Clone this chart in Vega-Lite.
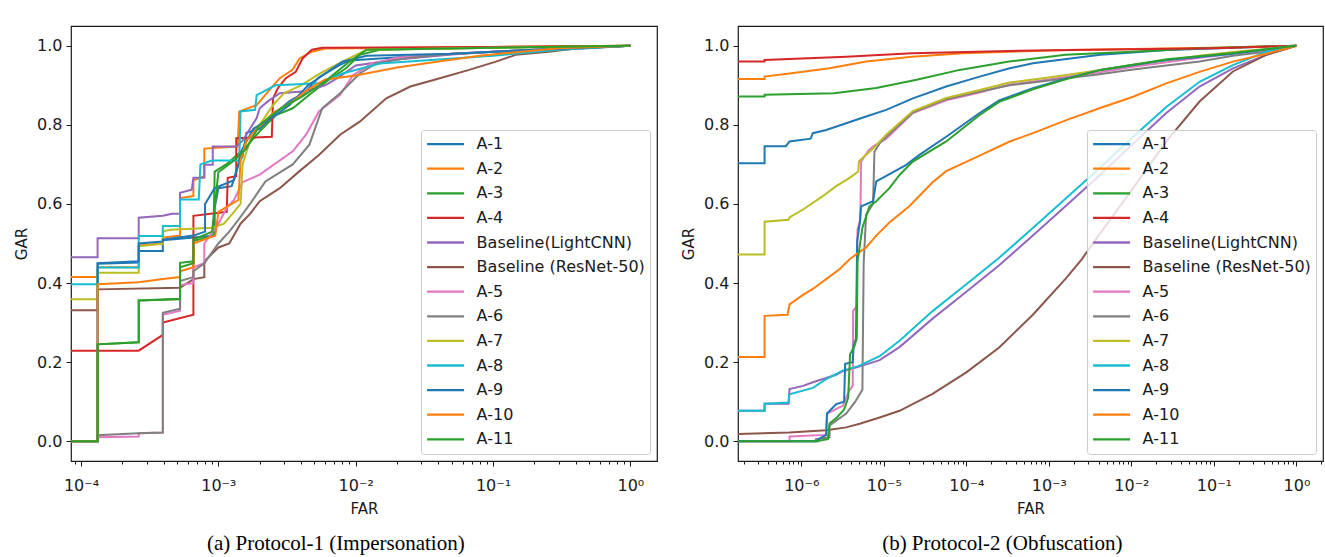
{
"$schema": "https://vega.github.io/schema/vega-lite/v6.json",
"background": "#ffffff",
"padding": {"left": 13, "top": 25, "right": 2, "bottom": 2},
"config": {
  "view": {"stroke": "#1a1a1a", "strokeWidth": 1.2},
  "axis": {"labelFont": "DejaVu Sans", "labelFontSize": 16, "labelColor": "#1a1a1a", "titleFont": "DejaVu Sans", "titleFontSize": 15, "titleFontWeight": "normal", "titleColor": "#1a1a1a", "tickColor": "#1a1a1a", "domain": false, "grid": false, "tickSize": 5},
  "axisY": {"labelPadding": 4, "titlePadding": 7},
  "axisX": {"labelPadding": 11, "titlePadding": 8},
  "legend": {"orient": "bottom-right", "offset": 7, "symbolType": "stroke", "symbolSize": 1369, "symbolStrokeWidth": 2.3, "labelFont": "DejaVu Sans", "labelFontSize": 16, "labelColor": "#1a1a1a", "clipHeight": 19, "rowPadding": 5.6, "padding": 4.6, "symbolOffset": 0, "labelOffset": 11, "fillColor": "rgba(255,255,255,0.8)", "strokeColor": "#cccccc", "cornerRadius": 3, "labelLimit": 300},
  "title": {"font": "Liberation Serif", "fontSize": 21, "fontWeight": "normal", "color": "#000000"}
},
"datasets": {
"p1": [
{"model":"A-1","far":8.45e-5,"gar":0},{"model":"A-1","far":1.32e-4,"gar":0},{"model":"A-1","far":1.32e-4,"gar":0.449},{"model":"A-1","far":2.63e-4,"gar":0.452},{"model":"A-1","far":2.63e-4,"gar":0.481},{"model":"A-1","far":3.94e-4,"gar":0.481},{"model":"A-1","far":3.94e-4,"gar":0.508},{"model":"A-1","far":6.58e-4,"gar":0.515},{"model":"A-1","far":9.4e-4,"gar":0.52},{"model":"A-1","far":9.4e-4,"gar":0.59},{"model":"A-1","far":1.0e-3,"gar":0.64},{"model":"A-1","far":1.25e-3,"gar":0.645},{"model":"A-1","far":1.4e-3,"gar":0.70},{"model":"A-1","far":1.5e-3,"gar":0.72},{"model":"A-1","far":1.6e-3,"gar":0.78},{"model":"A-1","far":2.0e-3,"gar":0.79},{"model":"A-1","far":2.6e-3,"gar":0.83},{"model":"A-1","far":3.3e-3,"gar":0.86},{"model":"A-1","far":4.2e-3,"gar":0.88},{"model":"A-1","far":5.4e-3,"gar":0.92},{"model":"A-1","far":7.5e-3,"gar":0.95},{"model":"A-1","far":9e-3,"gar":0.963},{"model":"A-1","far":1.5e-2,"gar":0.968},{"model":"A-1","far":3e-2,"gar":0.975},{"model":"A-1","far":0.1,"gar":0.985},{"model":"A-1","far":0.3,"gar":0.992},{"model":"A-1","far":1,"gar":1},
{"model":"A-2","far":8.45e-5,"gar":0.415},{"model":"A-2","far":1.32e-4,"gar":0.415},{"model":"A-2","far":1.32e-4,"gar":0.44},{"model":"A-2","far":2.63e-4,"gar":0.44},{"model":"A-2","far":2.63e-4,"gar":0.495},{"model":"A-2","far":3.94e-4,"gar":0.50},{"model":"A-2","far":3.94e-4,"gar":0.515},{"model":"A-2","far":5.26e-4,"gar":0.52},{"model":"A-2","far":5.26e-4,"gar":0.615},{"model":"A-2","far":6.58e-4,"gar":0.62},{"model":"A-2","far":6.58e-4,"gar":0.66},{"model":"A-2","far":7.9e-4,"gar":0.67},{"model":"A-2","far":7.9e-4,"gar":0.74},{"model":"A-2","far":1.38e-3,"gar":0.745},{"model":"A-2","far":1.42e-3,"gar":0.834},{"model":"A-2","far":1.9e-3,"gar":0.85},{"model":"A-2","far":2.3e-3,"gar":0.884},{"model":"A-2","far":2.8e-3,"gar":0.918},{"model":"A-2","far":3.48e-3,"gar":0.94},{"model":"A-2","far":3.9e-3,"gar":0.968},{"model":"A-2","far":4.8e-3,"gar":0.985},{"model":"A-2","far":6e-3,"gar":0.993},{"model":"A-2","far":0.1,"gar":0.997},{"model":"A-2","far":1,"gar":1},
{"model":"A-3","far":8.45e-5,"gar":0},{"model":"A-3","far":1.32e-4,"gar":0},{"model":"A-3","far":1.32e-4,"gar":0.245},{"model":"A-3","far":2.63e-4,"gar":0.25},{"model":"A-3","far":2.63e-4,"gar":0.356},{"model":"A-3","far":5.26e-4,"gar":0.359},{"model":"A-3","far":5.26e-4,"gar":0.451},{"model":"A-3","far":6.58e-4,"gar":0.455},{"model":"A-3","far":6.58e-4,"gar":0.506},{"model":"A-3","far":9.2e-4,"gar":0.52},{"model":"A-3","far":9.4e-4,"gar":0.682},{"model":"A-3","far":1.14e-3,"gar":0.70},{"model":"A-3","far":1.59e-3,"gar":0.744},{"model":"A-3","far":1.99e-3,"gar":0.783},{"model":"A-3","far":2.63e-3,"gar":0.825},{"model":"A-3","far":3.48e-3,"gar":0.842},{"model":"A-3","far":4.6e-3,"gar":0.876},{"model":"A-3","far":6.1e-3,"gar":0.909},{"model":"A-3","far":8.5e-3,"gar":0.943},{"model":"A-3","far":1.07e-2,"gar":0.977},{"model":"A-3","far":1.5e-2,"gar":0.99},{"model":"A-3","far":0.1,"gar":0.995},{"model":"A-3","far":1,"gar":1},
{"model":"A-4","far":8.45e-5,"gar":0.229},{"model":"A-4","far":2.63e-4,"gar":0.229},{"model":"A-4","far":3.94e-4,"gar":0.269},{"model":"A-4","far":3.94e-4,"gar":0.30},{"model":"A-4","far":6.58e-4,"gar":0.32},{"model":"A-4","far":6.58e-4,"gar":0.57},{"model":"A-4","far":1.15e-3,"gar":0.58},{"model":"A-4","far":1.17e-3,"gar":0.666},{"model":"A-4","far":1.35e-3,"gar":0.67},{"model":"A-4","far":1.35e-3,"gar":0.766},{"model":"A-4","far":2.45e-3,"gar":0.77},{"model":"A-4","far":2.5e-3,"gar":0.867},{"model":"A-4","far":2.7e-3,"gar":0.892},{"model":"A-4","far":3.1e-3,"gar":0.918},{"model":"A-4","far":3.66e-3,"gar":0.934},{"model":"A-4","far":4.1e-3,"gar":0.968},{"model":"A-4","far":4.8e-3,"gar":0.99},{"model":"A-4","far":5.7e-3,"gar":0.995},{"model":"A-4","far":0.1,"gar":0.997},{"model":"A-4","far":1,"gar":1},
{"model":"Baseline(LightCNN)","far":8.45e-5,"gar":0.465},{"model":"Baseline(LightCNN)","far":1.32e-4,"gar":0.465},{"model":"Baseline(LightCNN)","far":1.32e-4,"gar":0.513},{"model":"Baseline(LightCNN)","far":2.63e-4,"gar":0.513},{"model":"Baseline(LightCNN)","far":2.63e-4,"gar":0.565},{"model":"Baseline(LightCNN)","far":3.94e-4,"gar":0.57},{"model":"Baseline(LightCNN)","far":4.6e-4,"gar":0.575},{"model":"Baseline(LightCNN)","far":5.26e-4,"gar":0.575},{"model":"Baseline(LightCNN)","far":5.26e-4,"gar":0.628},{"model":"Baseline(LightCNN)","far":6.4e-4,"gar":0.636},{"model":"Baseline(LightCNN)","far":6.58e-4,"gar":0.666},{"model":"Baseline(LightCNN)","far":7.9e-4,"gar":0.666},{"model":"Baseline(LightCNN)","far":7.9e-4,"gar":0.699},{"model":"Baseline(LightCNN)","far":9.1e-4,"gar":0.699},{"model":"Baseline(LightCNN)","far":9.1e-4,"gar":0.745},{"model":"Baseline(LightCNN)","far":1.35e-3,"gar":0.745},{"model":"Baseline(LightCNN)","far":1.5e-3,"gar":0.76},{"model":"Baseline(LightCNN)","far":1.9e-3,"gar":0.817},{"model":"Baseline(LightCNN)","far":2.0e-3,"gar":0.842},{"model":"Baseline(LightCNN)","far":2.3e-3,"gar":0.86},{"model":"Baseline(LightCNN)","far":2.8e-3,"gar":0.88},{"model":"Baseline(LightCNN)","far":4.3e-3,"gar":0.885},{"model":"Baseline(LightCNN)","far":6e-3,"gar":0.90},{"model":"Baseline(LightCNN)","far":7.5e-3,"gar":0.92},{"model":"Baseline(LightCNN)","far":1e-2,"gar":0.95},{"model":"Baseline(LightCNN)","far":2e-2,"gar":0.965},{"model":"Baseline(LightCNN)","far":5e-2,"gar":0.978},{"model":"Baseline(LightCNN)","far":0.1,"gar":0.985},{"model":"Baseline(LightCNN)","far":0.3,"gar":0.99},{"model":"Baseline(LightCNN)","far":1,"gar":1},
{"model":"Baseline (ResNet-50)","far":8.45e-5,"gar":0.331},{"model":"Baseline (ResNet-50)","far":1.32e-4,"gar":0.331},{"model":"Baseline (ResNet-50)","far":1.32e-4,"gar":0.384},{"model":"Baseline (ResNet-50)","far":5.26e-4,"gar":0.388},{"model":"Baseline (ResNet-50)","far":6.58e-4,"gar":0.41},{"model":"Baseline (ResNet-50)","far":7.9e-4,"gar":0.415},{"model":"Baseline (ResNet-50)","far":7.9e-4,"gar":0.455},{"model":"Baseline (ResNet-50)","far":1e-3,"gar":0.49},{"model":"Baseline (ResNet-50)","far":1.2e-3,"gar":0.50},{"model":"Baseline (ResNet-50)","far":1.45e-3,"gar":0.55},{"model":"Baseline (ResNet-50)","far":1.7e-3,"gar":0.575},{"model":"Baseline (ResNet-50)","far":2e-3,"gar":0.607},{"model":"Baseline (ResNet-50)","far":2.8e-3,"gar":0.64},{"model":"Baseline (ResNet-50)","far":3.9e-3,"gar":0.683},{"model":"Baseline (ResNet-50)","far":5.4e-3,"gar":0.724},{"model":"Baseline (ResNet-50)","far":7.7e-3,"gar":0.775},{"model":"Baseline (ResNet-50)","far":1.07e-2,"gar":0.808},{"model":"Baseline (ResNet-50)","far":1.67e-2,"gar":0.867},{"model":"Baseline (ResNet-50)","far":2.5e-2,"gar":0.897},{"model":"Baseline (ResNet-50)","far":4.1e-2,"gar":0.918},{"model":"Baseline (ResNet-50)","far":6.7e-2,"gar":0.939},{"model":"Baseline (ResNet-50)","far":0.105,"gar":0.96},{"model":"Baseline (ResNet-50)","far":0.146,"gar":0.977},{"model":"Baseline (ResNet-50)","far":0.255,"gar":0.985},{"model":"Baseline (ResNet-50)","far":0.4,"gar":0.993},{"model":"Baseline (ResNet-50)","far":1,"gar":1},
{"model":"A-5","far":8.45e-5,"gar":0},{"model":"A-5","far":1.32e-4,"gar":0},{"model":"A-5","far":1.32e-4,"gar":0.01},{"model":"A-5","far":2.63e-4,"gar":0.012},{"model":"A-5","far":2.63e-4,"gar":0.02},{"model":"A-5","far":3.94e-4,"gar":0.022},{"model":"A-5","far":3.94e-4,"gar":0.32},{"model":"A-5","far":5.26e-4,"gar":0.33},{"model":"A-5","far":5.26e-4,"gar":0.395},{"model":"A-5","far":6.58e-4,"gar":0.40},{"model":"A-5","far":6.58e-4,"gar":0.44},{"model":"A-5","far":7.9e-4,"gar":0.45},{"model":"A-5","far":7.9e-4,"gar":0.50},{"model":"A-5","far":1e-3,"gar":0.55},{"model":"A-5","far":1.15e-3,"gar":0.59},{"model":"A-5","far":1.3e-3,"gar":0.61},{"model":"A-5","far":1.5e-3,"gar":0.655},{"model":"A-5","far":2e-3,"gar":0.674},{"model":"A-5","far":3.48e-3,"gar":0.733},{"model":"A-5","far":4.35e-3,"gar":0.775},{"model":"A-5","far":5.4e-3,"gar":0.834},{"model":"A-5","far":7.7e-3,"gar":0.876},{"model":"A-5","far":9.6e-3,"gar":0.926},{"model":"A-5","far":1.3e-2,"gar":0.955},{"model":"A-5","far":2e-2,"gar":0.97},{"model":"A-5","far":5e-2,"gar":0.98},{"model":"A-5","far":0.2,"gar":0.99},{"model":"A-5","far":1,"gar":1},
{"model":"A-6","far":8.45e-5,"gar":0},{"model":"A-6","far":1.32e-4,"gar":0},{"model":"A-6","far":1.32e-4,"gar":0.015},{"model":"A-6","far":2.63e-4,"gar":0.02},{"model":"A-6","far":3.94e-4,"gar":0.022},{"model":"A-6","far":3.94e-4,"gar":0.325},{"model":"A-6","far":5.26e-4,"gar":0.335},{"model":"A-6","far":5.26e-4,"gar":0.405},{"model":"A-6","far":6.58e-4,"gar":0.415},{"model":"A-6","far":6.58e-4,"gar":0.43},{"model":"A-6","far":7.9e-4,"gar":0.45},{"model":"A-6","far":1e-3,"gar":0.50},{"model":"A-6","far":1.2e-3,"gar":0.53},{"model":"A-6","far":1.4e-3,"gar":0.56},{"model":"A-6","far":1.7e-3,"gar":0.60},{"model":"A-6","far":2.2e-3,"gar":0.657},{"model":"A-6","far":3.48e-3,"gar":0.70},{"model":"A-6","far":4.6e-3,"gar":0.75},{"model":"A-6","far":5.7e-3,"gar":0.842},{"model":"A-6","far":7.7e-3,"gar":0.88},{"model":"A-6","far":1.07e-2,"gar":0.93},{"model":"A-6","far":1.4e-2,"gar":0.955},{"model":"A-6","far":2.5e-2,"gar":0.97},{"model":"A-6","far":5e-2,"gar":0.98},{"model":"A-6","far":0.2,"gar":0.99},{"model":"A-6","far":1,"gar":1},
{"model":"A-7","far":8.45e-5,"gar":0.359},{"model":"A-7","far":1.32e-4,"gar":0.359},{"model":"A-7","far":1.32e-4,"gar":0.426},{"model":"A-7","far":2.63e-4,"gar":0.426},{"model":"A-7","far":2.63e-4,"gar":0.493},{"model":"A-7","far":3.94e-4,"gar":0.50},{"model":"A-7","far":3.94e-4,"gar":0.531},{"model":"A-7","far":4.5e-4,"gar":0.535},{"model":"A-7","far":9e-4,"gar":0.54},{"model":"A-7","far":1.1e-3,"gar":0.55},{"model":"A-7","far":1.3e-3,"gar":0.58},{"model":"A-7","far":1.45e-3,"gar":0.60},{"model":"A-7","far":1.5e-3,"gar":0.70},{"model":"A-7","far":1.7e-3,"gar":0.76},{"model":"A-7","far":2.0e-3,"gar":0.80},{"model":"A-7","far":2.5e-3,"gar":0.85},{"model":"A-7","far":3.0e-3,"gar":0.88},{"model":"A-7","far":4e-3,"gar":0.90},{"model":"A-7","far":5.5e-3,"gar":0.93},{"model":"A-7","far":8e-3,"gar":0.96},{"model":"A-7","far":1.2e-2,"gar":0.99},{"model":"A-7","far":0.1,"gar":0.995},{"model":"A-7","far":1,"gar":1},
{"model":"A-8","far":8.45e-5,"gar":0.397},{"model":"A-8","far":1.32e-4,"gar":0.397},{"model":"A-8","far":1.32e-4,"gar":0.439},{"model":"A-8","far":2.63e-4,"gar":0.439},{"model":"A-8","far":2.63e-4,"gar":0.519},{"model":"A-8","far":3.94e-4,"gar":0.519},{"model":"A-8","far":3.94e-4,"gar":0.544},{"model":"A-8","far":5.26e-4,"gar":0.544},{"model":"A-8","far":5.26e-4,"gar":0.611},{"model":"A-8","far":7.2e-4,"gar":0.611},{"model":"A-8","far":7.4e-4,"gar":0.70},{"model":"A-8","far":9e-4,"gar":0.71},{"model":"A-8","far":1.42e-3,"gar":0.71},{"model":"A-8","far":1.45e-3,"gar":0.834},{"model":"A-8","far":1.85e-3,"gar":0.838},{"model":"A-8","far":1.9e-3,"gar":0.875},{"model":"A-8","far":2.6e-3,"gar":0.90},{"model":"A-8","far":5.4e-3,"gar":0.905},{"model":"A-8","far":8e-3,"gar":0.93},{"model":"A-8","far":1.5e-2,"gar":0.955},{"model":"A-8","far":4e-2,"gar":0.965},{"model":"A-8","far":0.1,"gar":0.975},{"model":"A-8","far":0.3,"gar":0.99},{"model":"A-8","far":1,"gar":1},
{"model":"A-9","far":8.45e-5,"gar":0},{"model":"A-9","far":1.32e-4,"gar":0},{"model":"A-9","far":1.32e-4,"gar":0.45},{"model":"A-9","far":2.63e-4,"gar":0.455},{"model":"A-9","far":2.63e-4,"gar":0.50},{"model":"A-9","far":3.94e-4,"gar":0.505},{"model":"A-9","far":3.94e-4,"gar":0.51},{"model":"A-9","far":6.58e-4,"gar":0.52},{"model":"A-9","far":8e-4,"gar":0.53},{"model":"A-9","far":8e-4,"gar":0.60},{"model":"A-9","far":9.4e-4,"gar":0.64},{"model":"A-9","far":1.3e-3,"gar":0.66},{"model":"A-9","far":1.5e-3,"gar":0.74},{"model":"A-9","far":1.8e-3,"gar":0.79},{"model":"A-9","far":2.5e-3,"gar":0.82},{"model":"A-9","far":3.3e-3,"gar":0.85},{"model":"A-9","far":4.5e-3,"gar":0.90},{"model":"A-9","far":6e-3,"gar":0.93},{"model":"A-9","far":8e-3,"gar":0.96},{"model":"A-9","far":1.2e-2,"gar":0.975},{"model":"A-9","far":5e-2,"gar":0.98},{"model":"A-9","far":0.2,"gar":0.99},{"model":"A-9","far":1,"gar":1},
{"model":"A-10","far":8.45e-5,"gar":0},{"model":"A-10","far":1.32e-4,"gar":0},{"model":"A-10","far":1.32e-4,"gar":0.397},{"model":"A-10","far":2.63e-4,"gar":0.402},{"model":"A-10","far":3.94e-4,"gar":0.41},{"model":"A-10","far":5.26e-4,"gar":0.415},{"model":"A-10","far":5.26e-4,"gar":0.43},{"model":"A-10","far":6.58e-4,"gar":0.44},{"model":"A-10","far":6.58e-4,"gar":0.50},{"model":"A-10","far":7.9e-4,"gar":0.51},{"model":"A-10","far":9.5e-4,"gar":0.52},{"model":"A-10","far":1.0e-3,"gar":0.58},{"model":"A-10","far":1.25e-3,"gar":0.60},{"model":"A-10","far":1.4e-3,"gar":0.61},{"model":"A-10","far":1.45e-3,"gar":0.71},{"model":"A-10","far":1.6e-3,"gar":0.76},{"model":"A-10","far":1.9e-3,"gar":0.79},{"model":"A-10","far":2.5e-3,"gar":0.83},{"model":"A-10","far":3.5e-3,"gar":0.86},{"model":"A-10","far":4.5e-3,"gar":0.89},{"model":"A-10","far":6e-3,"gar":0.915},{"model":"A-10","far":1e-2,"gar":0.925},{"model":"A-10","far":2e-2,"gar":0.945},{"model":"A-10","far":4e-2,"gar":0.96},{"model":"A-10","far":8e-2,"gar":0.975},{"model":"A-10","far":0.3,"gar":0.994},{"model":"A-10","far":1,"gar":1},
{"model":"A-11","far":8.45e-5,"gar":0},{"model":"A-11","far":1.32e-4,"gar":0},{"model":"A-11","far":1.32e-4,"gar":0.245},{"model":"A-11","far":2.63e-4,"gar":0.25},{"model":"A-11","far":2.63e-4,"gar":0.356},{"model":"A-11","far":5.26e-4,"gar":0.36},{"model":"A-11","far":5.26e-4,"gar":0.44},{"model":"A-11","far":6.58e-4,"gar":0.45},{"model":"A-11","far":6.58e-4,"gar":0.51},{"model":"A-11","far":9e-4,"gar":0.53},{"model":"A-11","far":1e-3,"gar":0.68},{"model":"A-11","far":1.3e-3,"gar":0.71},{"model":"A-11","far":1.6e-3,"gar":0.74},{"model":"A-11","far":2e-3,"gar":0.80},{"model":"A-11","far":2.8e-3,"gar":0.84},{"model":"A-11","far":4e-3,"gar":0.87},{"model":"A-11","far":6e-3,"gar":0.91},{"model":"A-11","far":9e-3,"gar":0.96},{"model":"A-11","far":1.2e-2,"gar":0.99},{"model":"A-11","far":0.1,"gar":0.995},{"model":"A-11","far":1,"gar":1}
],
"p2": [
{"model":"A-1","far":1.71e-7,"gar":0.703},{"model":"A-1","far":3.59e-7,"gar":0.703},{"model":"A-1","far":3.59e-7,"gar":0.746},{"model":"A-1","far":6.5e-7,"gar":0.746},{"model":"A-1","far":7.2e-7,"gar":0.758},{"model":"A-1","far":1.3e-6,"gar":0.765},{"model":"A-1","far":1.38e-6,"gar":0.779},{"model":"A-1","far":2.0e-6,"gar":0.787},{"model":"A-1","far":3.5e-6,"gar":0.804},{"model":"A-1","far":6.1e-6,"gar":0.821},{"model":"A-1","far":1.07e-5,"gar":0.838},{"model":"A-1","far":2.25e-5,"gar":0.867},{"model":"A-1","far":5.7e-5,"gar":0.897},{"model":"A-1","far":1.45e-4,"gar":0.922},{"model":"A-1","far":3.35e-4,"gar":0.943},{"model":"A-1","far":6.4e-4,"gar":0.956},{"model":"A-1","far":4.2e-3,"gar":0.977},{"model":"A-1","far":2.7e-2,"gar":0.989},{"model":"A-1","far":1,"gar":1},
{"model":"A-2","far":1.71e-7,"gar":0.916},{"model":"A-2","far":3.59e-7,"gar":0.916},{"model":"A-2","far":3.59e-7,"gar":0.922},{"model":"A-2","far":7.2e-7,"gar":0.93},{"model":"A-2","far":2.2e-6,"gar":0.943},{"model":"A-2","far":6.1e-6,"gar":0.96},{"model":"A-2","far":2.2e-5,"gar":0.972},{"model":"A-2","far":9.1e-5,"gar":0.981},{"model":"A-2","far":3.3e-4,"gar":0.985},{"model":"A-2","far":1.6e-3,"gar":0.989},{"model":"A-2","far":0.1,"gar":0.995},{"model":"A-2","far":1,"gar":1},
{"model":"A-3","far":1.71e-7,"gar":0.872},{"model":"A-3","far":3.59e-7,"gar":0.872},{"model":"A-3","far":3.59e-7,"gar":0.876},{"model":"A-3","far":2.5e-6,"gar":0.88},{"model":"A-3","far":8.1e-6,"gar":0.893},{"model":"A-3","far":2.5e-5,"gar":0.914},{"model":"A-3","far":8.3e-5,"gar":0.939},{"model":"A-3","far":3.3e-4,"gar":0.96},{"model":"A-3","far":1.6e-3,"gar":0.977},{"model":"A-3","far":1e-2,"gar":0.985},{"model":"A-3","far":6.8e-2,"gar":0.994},{"model":"A-3","far":1,"gar":1},
{"model":"A-4","far":1.71e-7,"gar":0.96},{"model":"A-4","far":3.59e-7,"gar":0.96},{"model":"A-4","far":3.59e-7,"gar":0.964},{"model":"A-4","far":3.5e-6,"gar":0.972},{"model":"A-4","far":2.2e-5,"gar":0.981},{"model":"A-4","far":3.3e-4,"gar":0.987},{"model":"A-4","far":1e-2,"gar":0.991},{"model":"A-4","far":0.1,"gar":0.994},{"model":"A-4","far":1,"gar":1},
{"model":"Baseline(LightCNN)","far":1.71e-7,"gar":0.077},{"model":"Baseline(LightCNN)","far":3.59e-7,"gar":0.077},{"model":"Baseline(LightCNN)","far":3.59e-7,"gar":0.095},{"model":"Baseline(LightCNN)","far":7.0e-7,"gar":0.095},{"model":"Baseline(LightCNN)","far":7.2e-7,"gar":0.132},{"model":"Baseline(LightCNN)","far":1.05e-6,"gar":0.14},{"model":"Baseline(LightCNN)","far":1.38e-6,"gar":0.149},{"model":"Baseline(LightCNN)","far":2e-6,"gar":0.16},{"model":"Baseline(LightCNN)","far":2.65e-6,"gar":0.168},{"model":"Baseline(LightCNN)","far":3.1e-6,"gar":0.176},{"model":"Baseline(LightCNN)","far":4.9e-6,"gar":0.188},{"model":"Baseline(LightCNN)","far":8.9e-6,"gar":0.205},{"model":"Baseline(LightCNN)","far":1.55e-5,"gar":0.238},{"model":"Baseline(LightCNN)","far":3.9e-5,"gar":0.31},{"model":"Baseline(LightCNN)","far":1.0e-4,"gar":0.378},{"model":"Baseline(LightCNN)","far":2.5e-4,"gar":0.445},{"model":"Baseline(LightCNN)","far":6.4e-4,"gar":0.52},{"model":"Baseline(LightCNN)","far":1.47e-3,"gar":0.588},{"model":"Baseline(LightCNN)","far":4.1e-3,"gar":0.672},{"model":"Baseline(LightCNN)","far":1.05e-2,"gar":0.752},{"model":"Baseline(LightCNN)","far":2.65e-2,"gar":0.83},{"model":"Baseline(LightCNN)","far":6.7e-2,"gar":0.897},{"model":"Baseline(LightCNN)","far":0.17,"gar":0.943},{"model":"Baseline(LightCNN)","far":0.43,"gar":0.977},{"model":"Baseline(LightCNN)","far":1,"gar":1},
{"model":"Baseline (ResNet-50)","far":1.71e-7,"gar":0.018},{"model":"Baseline (ResNet-50)","far":7.2e-7,"gar":0.022},{"model":"Baseline (ResNet-50)","far":2e-6,"gar":0.028},{"model":"Baseline (ResNet-50)","far":3.5e-6,"gar":0.035},{"model":"Baseline (ResNet-50)","far":5.1e-6,"gar":0.044},{"model":"Baseline (ResNet-50)","far":8.9e-6,"gar":0.06},{"model":"Baseline (ResNet-50)","far":1.55e-5,"gar":0.077},{"model":"Baseline (ResNet-50)","far":3.9e-5,"gar":0.12},{"model":"Baseline (ResNet-50)","far":1.0e-4,"gar":0.174},{"model":"Baseline (ResNet-50)","far":2.5e-4,"gar":0.237},{"model":"Baseline (ResNet-50)","far":6.4e-4,"gar":0.32},{"model":"Baseline (ResNet-50)","far":1.63e-3,"gar":0.413},{"model":"Baseline (ResNet-50)","far":2.5e-3,"gar":0.46},{"model":"Baseline (ResNet-50)","far":4.1e-3,"gar":0.523},{"model":"Baseline (ResNet-50)","far":1.05e-2,"gar":0.64},{"model":"Baseline (ResNet-50)","far":2.65e-2,"gar":0.758},{"model":"Baseline (ResNet-50)","far":6.7e-2,"gar":0.859},{"model":"Baseline (ResNet-50)","far":0.17,"gar":0.935},{"model":"Baseline (ResNet-50)","far":0.43,"gar":0.977},{"model":"Baseline (ResNet-50)","far":1,"gar":1},
{"model":"A-5","far":1.71e-7,"gar":0},{"model":"A-5","far":7.2e-7,"gar":0},{"model":"A-5","far":7.2e-7,"gar":0.012},{"model":"A-5","far":2.0e-6,"gar":0.016},{"model":"A-5","far":2.05e-6,"gar":0.07},{"model":"A-5","far":3.2e-6,"gar":0.09},{"model":"A-5","far":3.8e-6,"gar":0.128},{"model":"A-5","far":4.2e-6,"gar":0.14},{"model":"A-5","far":4.25e-6,"gar":0.33},{"model":"A-5","far":4.7e-6,"gar":0.34},{"model":"A-5","far":4.8e-6,"gar":0.536},{"model":"A-5","far":5.2e-6,"gar":0.56},{"model":"A-5","far":5.3e-6,"gar":0.707},{"model":"A-5","far":6.5e-6,"gar":0.735},{"model":"A-5","far":7.4e-6,"gar":0.745},{"model":"A-5","far":1.07e-5,"gar":0.765},{"model":"A-5","far":2.25e-5,"gar":0.83},{"model":"A-5","far":5.7e-5,"gar":0.862},{"model":"A-5","far":1.45e-4,"gar":0.882},{"model":"A-5","far":3.35e-4,"gar":0.902},{"model":"A-5","far":1e-3,"gar":0.915},{"model":"A-5","far":4.1e-3,"gar":0.933},{"model":"A-5","far":1.05e-2,"gar":0.947},{"model":"A-5","far":2.65e-2,"gar":0.958},{"model":"A-5","far":6.7e-2,"gar":0.97},{"model":"A-5","far":0.17,"gar":0.98},{"model":"A-5","far":0.43,"gar":0.99},{"model":"A-5","far":1,"gar":1},
{"model":"A-6","far":1.71e-7,"gar":0},{"model":"A-6","far":1.5e-6,"gar":0},{"model":"A-6","far":1.5e-6,"gar":0.005},{"model":"A-6","far":2.2e-6,"gar":0.01},{"model":"A-6","far":2.2e-6,"gar":0.04},{"model":"A-6","far":3.5e-6,"gar":0.07},{"model":"A-6","far":4.5e-6,"gar":0.10},{"model":"A-6","far":5.5e-6,"gar":0.13},{"model":"A-6","far":5.7e-6,"gar":0.45},{"model":"A-6","far":6.1e-6,"gar":0.573},{"model":"A-6","far":7.4e-6,"gar":0.60},{"model":"A-6","far":7.7e-6,"gar":0.732},{"model":"A-6","far":9e-6,"gar":0.755},{"model":"A-6","far":1.07e-5,"gar":0.77},{"model":"A-6","far":2.25e-5,"gar":0.832},{"model":"A-6","far":5.7e-5,"gar":0.865},{"model":"A-6","far":1.45e-4,"gar":0.884},{"model":"A-6","far":3.35e-4,"gar":0.9},{"model":"A-6","far":1e-3,"gar":0.912},{"model":"A-6","far":4.1e-3,"gar":0.928},{"model":"A-6","far":1.05e-2,"gar":0.94},{"model":"A-6","far":2.65e-2,"gar":0.95},{"model":"A-6","far":6.7e-2,"gar":0.96},{"model":"A-6","far":0.17,"gar":0.975},{"model":"A-6","far":0.43,"gar":0.985},{"model":"A-6","far":1,"gar":1},
{"model":"A-7","far":1.71e-7,"gar":0.472},{"model":"A-7","far":3.59e-7,"gar":0.472},{"model":"A-7","far":3.59e-7,"gar":0.555},{"model":"A-7","far":7e-7,"gar":0.56},{"model":"A-7","far":7.2e-7,"gar":0.566},{"model":"A-7","far":1.05e-6,"gar":0.586},{"model":"A-7","far":1.8e-6,"gar":0.619},{"model":"A-7","far":2.65e-6,"gar":0.645},{"model":"A-7","far":3.85e-6,"gar":0.666},{"model":"A-7","far":4.9e-6,"gar":0.682},{"model":"A-7","far":5.0e-6,"gar":0.708},{"model":"A-7","far":7.4e-6,"gar":0.74},{"model":"A-7","far":1.07e-5,"gar":0.775},{"model":"A-7","far":2.25e-5,"gar":0.835},{"model":"A-7","far":5.7e-5,"gar":0.868},{"model":"A-7","far":1.45e-4,"gar":0.888},{"model":"A-7","far":3.35e-4,"gar":0.907},{"model":"A-7","far":1e-3,"gar":0.92},{"model":"A-7","far":4.1e-3,"gar":0.938},{"model":"A-7","far":1.05e-2,"gar":0.952},{"model":"A-7","far":2.65e-2,"gar":0.963},{"model":"A-7","far":6.7e-2,"gar":0.975},{"model":"A-7","far":0.17,"gar":0.984},{"model":"A-7","far":0.43,"gar":0.992},{"model":"A-7","far":1,"gar":1},
{"model":"A-8","far":1.71e-7,"gar":0.077},{"model":"A-8","far":3.59e-7,"gar":0.077},{"model":"A-8","far":3.59e-7,"gar":0.095},{"model":"A-8","far":7e-7,"gar":0.098},{"model":"A-8","far":7.2e-7,"gar":0.119},{"model":"A-8","far":1.38e-6,"gar":0.135},{"model":"A-8","far":2.0e-6,"gar":0.157},{"model":"A-8","far":2.65e-6,"gar":0.17},{"model":"A-8","far":3.1e-6,"gar":0.178},{"model":"A-8","far":4.9e-6,"gar":0.19},{"model":"A-8","far":8.9e-6,"gar":0.215},{"model":"A-8","far":1.55e-5,"gar":0.254},{"model":"A-8","far":3.9e-5,"gar":0.329},{"model":"A-8","far":1.0e-4,"gar":0.397},{"model":"A-8","far":2.5e-4,"gar":0.464},{"model":"A-8","far":6.4e-4,"gar":0.539},{"model":"A-8","far":1.47e-3,"gar":0.607},{"model":"A-8","far":4.1e-3,"gar":0.69},{"model":"A-8","far":1.05e-2,"gar":0.77},{"model":"A-8","far":2.65e-2,"gar":0.845},{"model":"A-8","far":6.7e-2,"gar":0.909},{"model":"A-8","far":0.17,"gar":0.951},{"model":"A-8","far":0.43,"gar":0.985},{"model":"A-8","far":1,"gar":1},
{"model":"A-9","far":1.71e-7,"gar":0},{"model":"A-9","far":1.6e-6,"gar":0},{"model":"A-9","far":1.6e-6,"gar":0.005},{"model":"A-9","far":2.0e-6,"gar":0.016},{"model":"A-9","far":2.05e-6,"gar":0.07},{"model":"A-9","far":2.65e-6,"gar":0.094},{"model":"A-9","far":3.3e-6,"gar":0.10},{"model":"A-9","far":3.4e-6,"gar":0.196},{"model":"A-9","far":4.2e-6,"gar":0.20},{"model":"A-9","far":4.3e-6,"gar":0.24},{"model":"A-9","far":4.6e-6,"gar":0.26},{"model":"A-9","far":4.75e-6,"gar":0.506},{"model":"A-9","far":5.1e-6,"gar":0.55},{"model":"A-9","far":5.3e-6,"gar":0.594},{"model":"A-9","far":7.4e-6,"gar":0.607},{"model":"A-9","far":8.1e-6,"gar":0.657},{"model":"A-9","far":1.87e-5,"gar":0.699},{"model":"A-9","far":2.7e-5,"gar":0.724},{"model":"A-9","far":5.7e-5,"gar":0.77},{"model":"A-9","far":1.45e-4,"gar":0.83},{"model":"A-9","far":2.5e-4,"gar":0.862},{"model":"A-9","far":6.4e-4,"gar":0.893},{"model":"A-9","far":1.6e-3,"gar":0.917},{"model":"A-9","far":4.2e-3,"gar":0.939},{"model":"A-9","far":2.7e-2,"gar":0.964},{"model":"A-9","far":0.17,"gar":0.98},{"model":"A-9","far":1,"gar":1},
{"model":"A-10","far":1.71e-7,"gar":0.213},{"model":"A-10","far":3.59e-7,"gar":0.213},{"model":"A-10","far":3.59e-7,"gar":0.317},{"model":"A-10","far":6.8e-7,"gar":0.32},{"model":"A-10","far":7.2e-7,"gar":0.346},{"model":"A-10","far":1.05e-6,"gar":0.37},{"model":"A-10","far":1.38e-6,"gar":0.385},{"model":"A-10","far":2.0e-6,"gar":0.41},{"model":"A-10","far":2.9e-6,"gar":0.435},{"model":"A-10","far":3.85e-6,"gar":0.46},{"model":"A-10","far":4.8e-6,"gar":0.475},{"model":"A-10","far":6.1e-6,"gar":0.49},{"model":"A-10","far":8.1e-6,"gar":0.52},{"model":"A-10","far":1.17e-5,"gar":0.553},{"model":"A-10","far":2.05e-5,"gar":0.595},{"model":"A-10","far":3.9e-5,"gar":0.655},{"model":"A-10","far":5.7e-5,"gar":0.683},{"model":"A-10","far":1.45e-4,"gar":0.722},{"model":"A-10","far":3.35e-4,"gar":0.758},{"model":"A-10","far":6.4e-4,"gar":0.779},{"model":"A-10","far":1.63e-3,"gar":0.812},{"model":"A-10","far":4.1e-3,"gar":0.842},{"model":"A-10","far":1.05e-2,"gar":0.871},{"model":"A-10","far":2.65e-2,"gar":0.905},{"model":"A-10","far":6.7e-2,"gar":0.934},{"model":"A-10","far":0.17,"gar":0.96},{"model":"A-10","far":0.43,"gar":0.98},{"model":"A-10","far":1,"gar":1},
{"model":"A-11","far":1.71e-7,"gar":0},{"model":"A-11","far":1.5e-6,"gar":0},{"model":"A-11","far":2.1e-6,"gar":0.005},{"model":"A-11","far":2.2e-6,"gar":0.045},{"model":"A-11","far":2.7e-6,"gar":0.06},{"model":"A-11","far":3.3e-6,"gar":0.08},{"model":"A-11","far":3.7e-6,"gar":0.11},{"model":"A-11","far":3.9e-6,"gar":0.22},{"model":"A-11","far":4.4e-6,"gar":0.24},{"model":"A-11","far":4.7e-6,"gar":0.26},{"model":"A-11","far":4.8e-6,"gar":0.455},{"model":"A-11","far":5.5e-6,"gar":0.54},{"model":"A-11","far":6.7e-6,"gar":0.594},{"model":"A-11","far":8.1e-6,"gar":0.607},{"model":"A-11","far":1.17e-5,"gar":0.64},{"model":"A-11","far":1.56e-5,"gar":0.674},{"model":"A-11","far":2.25e-5,"gar":0.707},{"model":"A-11","far":5.7e-5,"gar":0.758},{"model":"A-11","far":1.45e-4,"gar":0.825},{"model":"A-11","far":2.5e-4,"gar":0.858},{"model":"A-11","far":6.4e-4,"gar":0.89},{"model":"A-11","far":1.6e-3,"gar":0.915},{"model":"A-11","far":4.2e-3,"gar":0.939},{"model":"A-11","far":2.7e-2,"gar":0.966},{"model":"A-11","far":0.17,"gar":0.982},{"model":"A-11","far":1,"gar":1}
]
},
"hconcat": [
{
  "width": 586, "height": 435,
  "data": {"name": "p1"},
  "title": {"text": "(a) Protocol-1 (Impersonation)", "orient": "bottom", "anchor": "middle", "frame": "bounds", "offset": 17},
  "mark": {"type": "line", "strokeWidth": 2, "clip": true},
  "encoding": {
    "x": {"field": "far", "type": "quantitative", "scale": {"type": "log", "domain": [8.45e-5, 1.563], "nice": false},
      "axis": {"title": "FAR", "values": [9e-5,1e-4,2e-4,3e-4,4e-4,5e-4,6e-4,7e-4,8e-4,9e-4,1e-3,2e-3,3e-3,4e-3,5e-3,6e-3,7e-3,8e-3,9e-3,1e-2,2e-2,3e-2,4e-2,5e-2,6e-2,7e-2,8e-2,9e-2,0.1,0.2,0.3,0.4,0.5,0.6,0.7,0.8,0.9,1],
        "labelOverlap": false, "labelFlush": false,
        "labelExpr": "abs(log(datum.value)/LN10 - round(log(datum.value)/LN10)) < 0.01 ? '10' + (round(log(datum.value)/LN10) < 0 ? '⁻' : '') + ['⁰','¹','²','³','⁴','⁵','⁶','⁷','⁸','⁹'][abs(round(log(datum.value)/LN10))] : ''",
        "tickSize": {"condition": {"test": "abs(log(datum.value)/LN10 - round(log(datum.value)/LN10)) < 0.01", "value": 5}, "value": 3}}},
    "y": {"field": "gar", "type": "quantitative", "scale": {"domain": [-0.05, 1.05], "nice": false, "zero": false},
      "axis": {"title": "GAR", "values": [0,0.2,0.4,0.6,0.8,1], "format": ".1f"}},
    "color": {"field": "model", "type": "nominal",
      "scale": {"domain": ["A-1","A-2","A-3","A-4","Baseline(LightCNN)","Baseline (ResNet-50)","A-5","A-6","A-7","A-8","A-9","A-10","A-11"],
        "range": ["#1f77b4","#ff7f0e","#2ca02c","#d62728","#9467bd","#8c564b","#e377c2","#7f7f7f","#bcbd22","#17becf","#1f77b4","#ff7f0e","#2ca02c"]},
      "legend": {"title": null}}
  }
},
{
  "width": 585, "height": 435,
  "data": {"name": "p2"},
  "title": {"text": "(b) Protocol-2 (Obfuscation)", "orient": "bottom", "anchor": "middle", "frame": "bounds", "offset": 17},
  "mark": {"type": "line", "strokeWidth": 2, "clip": true},
  "encoding": {
    "x": {"field": "far", "type": "quantitative", "scale": {"type": "log", "domain": [1.71e-7, 2.099], "nice": false},
      "axis": {"title": "FAR", "values": [2e-7,3e-7,4e-7,5e-7,6e-7,7e-7,8e-7,9e-7,1e-6,2e-6,3e-6,4e-6,5e-6,6e-6,7e-6,8e-6,9e-6,1e-5,2e-5,3e-5,4e-5,5e-5,6e-5,7e-5,8e-5,9e-5,1e-4,2e-4,3e-4,4e-4,5e-4,6e-4,7e-4,8e-4,9e-4,1e-3,2e-3,3e-3,4e-3,5e-3,6e-3,7e-3,8e-3,9e-3,1e-2,2e-2,3e-2,4e-2,5e-2,6e-2,7e-2,8e-2,9e-2,0.1,0.2,0.3,0.4,0.5,0.6,0.7,0.8,0.9,1,2],
        "labelOverlap": false, "labelFlush": false,
        "labelExpr": "abs(log(datum.value)/LN10 - round(log(datum.value)/LN10)) < 0.01 ? '10' + (round(log(datum.value)/LN10) < 0 ? '⁻' : '') + ['⁰','¹','²','³','⁴','⁵','⁶','⁷','⁸','⁹'][abs(round(log(datum.value)/LN10))] : ''",
        "tickSize": {"condition": {"test": "abs(log(datum.value)/LN10 - round(log(datum.value)/LN10)) < 0.01", "value": 5}, "value": 3}}},
    "y": {"field": "gar", "type": "quantitative", "scale": {"domain": [-0.05, 1.05], "nice": false, "zero": false},
      "axis": {"title": "GAR", "values": [0,0.2,0.4,0.6,0.8,1], "format": ".1f"}},
    "color": {"field": "model", "type": "nominal",
      "scale": {"domain": ["A-1","A-2","A-3","A-4","Baseline(LightCNN)","Baseline (ResNet-50)","A-5","A-6","A-7","A-8","A-9","A-10","A-11"],
        "range": ["#1f77b4","#ff7f0e","#2ca02c","#d62728","#9467bd","#8c564b","#e377c2","#7f7f7f","#bcbd22","#17becf","#1f77b4","#ff7f0e","#2ca02c"]},
      "legend": {"title": null}}
  }
}
],
"spacing": 22,
"resolve": {"scale": {"color": "independent"}, "legend": {"color": "independent"}}
}
